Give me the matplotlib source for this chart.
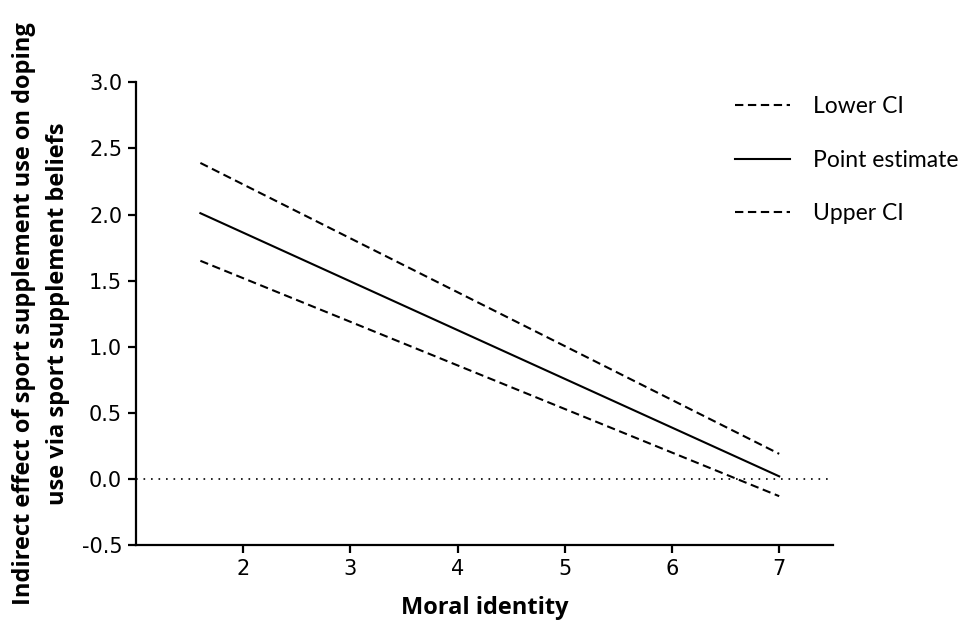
import numpy as np
import matplotlib.pyplot as plt

# moral identity range for the simple lines
x_ends = [1.6, 7.0]
upper_line = [2.39, 0.19]
point_est = [2.01, 0.02]
lower_line = [1.65, -0.13]

labels = ["Lower CI", "Point estimate", "Upper CI"]
y_ticks = [-0.5, 0.0, 0.5, 1.0, 1.5, 2.0, 2.5, 3.0]
x_ticks = [2, 3, 4, 5, 6, 7]

fig = plt.figure(figsize=(9.65, 6.28), dpi=100)
ax = fig.add_axes([0.141, 0.132, 0.722, 0.737])

ax.axhline(0, color="black", lw=1.2, ls=(0, (1, 3.5)))
ax.plot(x_ends, upper_line, color="black", lw=1.5, dashes=(4, 2.2), label=labels[0])
ax.plot(x_ends, point_est, color="black", lw=1.5, label=labels[1])
ax.plot(x_ends, lower_line, color="black", lw=1.5, dashes=(4, 2.2), label=labels[2])

ax.set_xlim(1, 7.5)
ax.set_ylim(-0.5, 3.0)
ax.set_xticks(x_ticks)
ax.set_yticks(y_ticks)
ax.set_yticklabels([f"{v:.1f}" for v in y_ticks])

for s in ["top", "right"]:
    ax.spines[s].set_visible(False)
for s in ["left", "bottom"]:
    ax.spines[s].set_linewidth(1.6)
ax.tick_params(direction="out", length=6, width=1.6, labelsize=15, pad=4)

ax.set_xlabel("Moral identity", fontsize=17, fontweight="bold", family="Open Sans", labelpad=12)
ax.set_ylabel("Indirect effect of sport supplement use on doping\nuse via sport supplement beliefs",
              fontsize=17, fontweight="bold", family="Open Sans", labelpad=8, linespacing=1.6)

leg = ax.legend(loc="upper left", bbox_to_anchor=(0.74, 0.88), bbox_transform=fig.transFigure,
                frameon=False, prop={"family": "Lato", "size": 16.5}, handlelength=2.4,
                handletextpad=1.0, labelspacing=1.42)

fig.savefig("out.png", dpi=100)
